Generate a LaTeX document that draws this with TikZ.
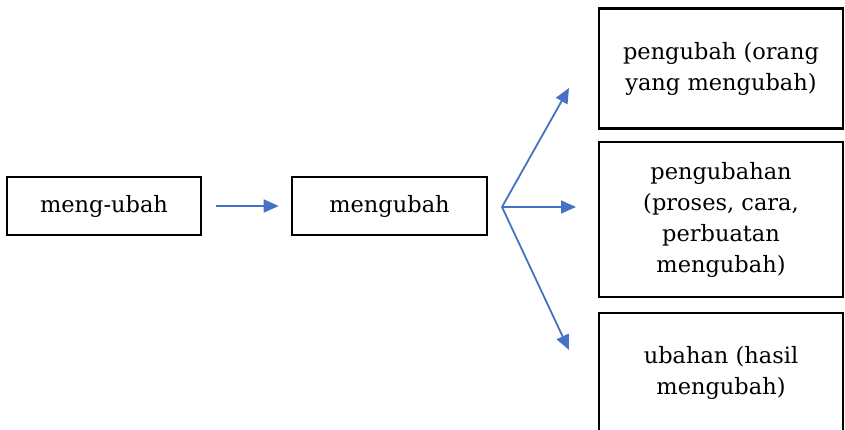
\documentclass[tikz,border=0pt]{standalone}
\usepackage{fontspec}
\setmainfont{DejaVu Serif}
\usetikzlibrary{arrows.meta}
\definecolor{arrowblue}{RGB}{68,114,196}
\begin{document}
\begin{tikzpicture}[x=1pt,y=-1pt,
  box/.style={draw=black,line width=2.6pt,rectangle,inner sep=0pt,align=center,
    font=\fontsize{22.5}{31}\selectfont},
  conn/.style={draw=arrowblue,line width=1.8pt,-{Triangle[length=15pt,width=13pt]}}]
\useasboundingbox (0,0) rectangle (845,430);
\clip (0,0) rectangle (845,430);
\node[box,minimum width=194pt,minimum height=58pt] (a) at (104,206) {meng-ubah};
\node[box,minimum width=195pt,minimum height=58pt] (b) at (389.5,206) {mengubah};
\node[box,minimum width=244pt,minimum height=120pt] (c) at (721,68.5) {pengubah (orang\\yang mengubah)};
\node[box,minimum width=244pt,minimum height=155pt] (d) at (721,219.5) {pengubahan\\(proses, cara,\\perbuatan\\mengubah)};
\node[box,minimum width=244pt,minimum height=128pt] (e) at (721,377) {};
\node[font=\fontsize{22.5}{31}\selectfont,align=center] (et) at (721,373) {ubahan (hasil\\mengubah)};
\coordinate (fan) at (502,207);
\coordinate (t1) at (569,88);
\coordinate (t2) at (576,207);
\coordinate (t3) at (569,350);
\draw[conn,shorten <=14pt,shorten >=12pt] (a.east) -- (b.west);
\draw[conn] (fan) -- (t1);
\draw[conn] (fan) -- (t2);
\draw[conn] (fan) -- (t3);
\end{tikzpicture}
\end{document}
